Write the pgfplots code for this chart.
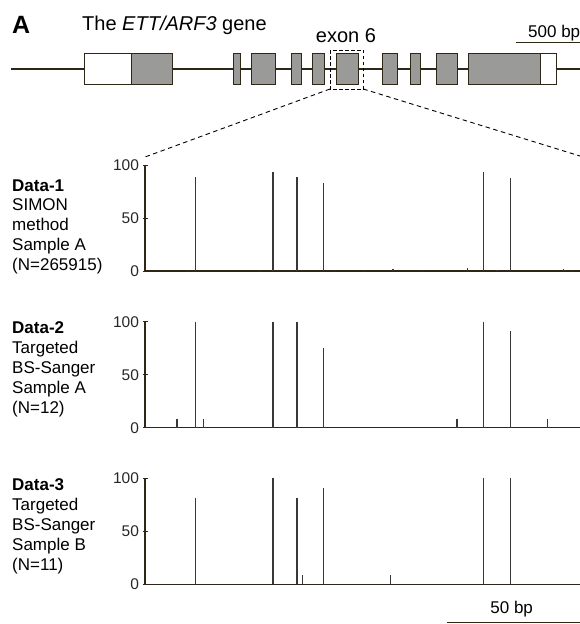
\documentclass[border=0pt]{standalone}
\usepackage{pgfplots}
\pgfplotsset{compat=1.18}
\usepackage{pgfplotstable}
\usepackage{fontspec}
\setmainfont{Liberation Sans}

\definecolor{brn}{HTML}{2E2617}
\definecolor{exon}{HTML}{9A9A98}
\definecolor{barc}{HTML}{383838}

% methylation level (%) at each position in exon 6 (bp)
\pgfplotstableread{
pos val
16 1
19 89
43 1
48 93
55 1
57 89
67 83
71 1
82 1
93 1.5
104 1
121 2.5
127 93
132 1
137 88
157 1.5
160 1
}\dataone

\pgfplotstableread{
pos val
12 8.3
19 100
22 8.3
48 100
57 100
67 75
117 8.3
127 100
137 91.7
151 8.3
}\datatwo

\pgfplotstableread{
pos val
19 81.8
48 100
57 81.8
59 9.1
67 90.9
92 9.1
127 100
137 100
}\datathree

\pgfplotsset{
  panel/.style={
    scale only axis, width=435pt, height=106pt,
    xmin=0, xmax=163.125, ymin=0, ymax=100,
    axis lines=left,
    axis line style={-, brn, line width=1.2pt},
    xtick=\empty, ytick={0,50,100},
    tick align=center, major tick length=5pt,
    tick style={brn, line width=1pt},
    yticklabel style={font=\fontsize{15.5}{15.5}\selectfont, text=black!85},
    /pgf/number format/assume math mode=true,
    clip=false, anchor=south west,
  },
  bars/.style={ycomb, barc, line width=1.3pt, mark=none},
}

\newcommand{\lbl}[3]{\node[anchor=base west, inner sep=0, font=\fontsize{17}{17}\selectfont] at (#1,#2) {#3};}

\begin{document}
\begin{tikzpicture}
\useasboundingbox (0,0) rectangle (580pt,-624pt);
\clip (0,0) rectangle (580pt,-624pt);

\begin{scope}[x=1pt, y=-1pt]
  \node[anchor=base west, inner sep=0, font=\fontsize{25}{25}\selectfont\bfseries] at (12,33.5) {A};
  \node[anchor=base west, inner sep=0, font=\fontsize{20}{20}\selectfont] at (82,30) {The \textit{ETT/ARF3} gene};
  \node[anchor=base, inner sep=0, font=\fontsize{20}{20}\selectfont] at (346,42.5) {exon 6};
  \node[anchor=base west, inner sep=0, font=\fontsize{17}{17}\selectfont] at (528,37) {500 bp};
  \draw[brn, line width=1.5pt] (515.7,42.3) -- (580,42.3);

  \draw[brn, line width=2pt] (11,69.3) -- (580,69.3);
  \filldraw[fill=white, draw=brn, line width=0.8pt] (84,53.5) rectangle (131.7,84);
  \foreach \a/\b in {131.7/172.3, 233/240.7, 251/275, 291.7/301.7, 312.7/324,
      336.7/358.3, 382.7/397.3, 410/420.7, 436.7/457.7, 468.3/540.7}
    \filldraw[fill=exon, draw=brn, line width=0.8pt] (\a,53.5) rectangle (\b,84);
  \filldraw[fill=white, draw=brn, line width=0.8pt] (540.7,53.5) rectangle (556,84);

  \draw[black, line width=0.9pt, dash pattern=on 3.5pt off 2.5pt] (330,50) rectangle (363.3,89);
  \draw[black, line width=0.9pt, dash pattern=on 4.5pt off 3.5pt] (330,89) -- (145,157);
  \draw[black, line width=0.9pt, dash pattern=on 4.5pt off 3.5pt] (363.3,89) -- (580,156);

  \node[anchor=base west, inner sep=0, font=\fontsize{17}{17}\selectfont\bfseries] at (12,191) {Data-1};
  \lbl{12}{210.5}{SIMON}
  \lbl{12}{230}{method}
  \lbl{12}{250}{Sample A}
  \lbl{12}{270}{(N=265915)}

  \node[anchor=base west, inner sep=0, font=\fontsize{17}{17}\selectfont\bfseries] at (12,333) {Data-2};
  \lbl{12}{353}{Targeted}
  \lbl{12}{373}{BS-Sanger}
  \lbl{12}{393}{Sample A}
  \lbl{12}{413}{(N=12)}

  \node[anchor=base west, inner sep=0, font=\fontsize{17}{17}\selectfont\bfseries] at (12,490) {Data-3};
  \lbl{12}{510}{Targeted}
  \lbl{12}{530}{BS-Sanger}
  \lbl{12}{550}{Sample B}
  \lbl{12}{570}{(N=11)}

  \node[anchor=base, inner sep=0, font=\fontsize{17}{17}\selectfont] at (511.7,613.5) {50 bp};
  \draw[brn, line width=1.3pt] (447,622.7) -- (580,622.7);
\end{scope}

\begin{axis}[panel, at={(145pt,-271pt)}]
\addplot[bars] table[x=pos, y=val] {\dataone};
\end{axis}

\begin{axis}[panel, at={(145pt,-427.7pt)}]
\addplot[bars] table[x=pos, y=val] {\datatwo};
\end{axis}

\begin{axis}[panel, at={(145pt,-584.3pt)}]
\addplot[bars] table[x=pos, y=val] {\datathree};
\end{axis}
\end{tikzpicture}
\end{document}
